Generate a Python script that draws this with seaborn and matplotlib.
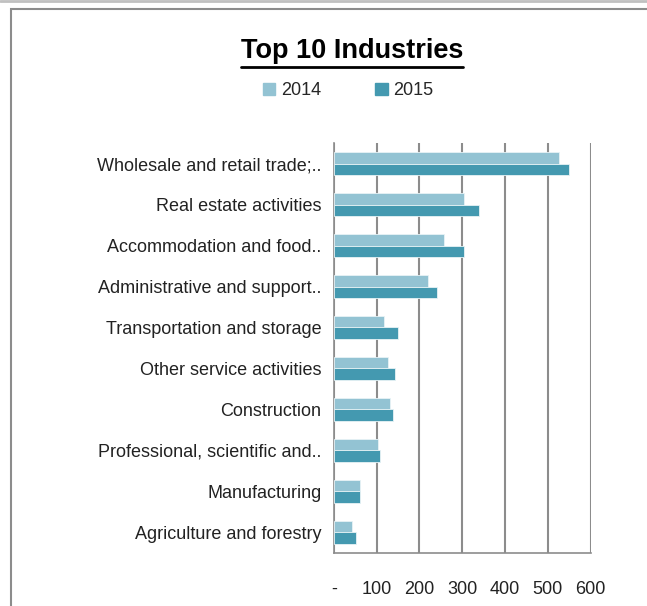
import numpy as np
import pandas as pd
import matplotlib
matplotlib.use("Agg")
import matplotlib.pyplot as plt
import seaborn as sns
from matplotlib.lines import Line2D
from matplotlib.patches import Rectangle

industries = [
    "Wholesale and retail trade;..",
    "Real estate activities",
    "Accommodation and food..",
    "Administrative and support..",
    "Transportation and storage",
    "Other service activities",
    "Construction",
    "Professional, scientific and..",
    "Manufacturing",
    "Agriculture and forestry",
]
values_2014 = [526, 304, 257, 221, 118, 126, 130, 102, 62, 43]
values_2015 = [550, 340, 305, 241, 150, 142, 138, 107, 62, 51]
years = ["2014", "2015"]
xticks = [0, 100, 200, 300, 400, 500, 600]
xtick_labels = ["-", "100", "200", "300", "400", "500", "600"]

df = pd.DataFrame({
    "industry": industries * 2,
    "year": [years[0]] * len(industries) + [years[1]] * len(industries),
    "value": values_2014 + values_2015,
})

sns.set_style("white")
plt.rcParams["font.family"] = ["Liberation Sans", "DejaVu Sans"]

fig = plt.figure(figsize=(6.47, 6.06), dpi=100)
ax = fig.add_axes([0.516, 0.0875, 0.397, 0.6765])

colors = {"2014": "#93c3d3", "2015": "#4499b0"}
sns.barplot(data=df, y="industry", x="value", hue="year", hue_order=years,
            order=industries, palette=colors, saturation=1, width=0.58, orient="h",
            edgecolor="#e8f3f6", linewidth=0.6, ax=ax, legend=False, zorder=3)

ax.set_xlim(0, 600)
ax.set_ylim(len(industries) - 0.5, -0.5)
ax.set_xticks(xticks)
ax.set_xticklabels(xtick_labels, fontsize=13, color="#222222")
ax.tick_params(axis="x", length=6, width=1.2, color="#8c8c8c", pad=14)
ax.set_yticks(range(len(industries)))
ax.set_yticklabels(industries, fontsize=13, color="#222222")
ax.tick_params(axis="y", length=0, pad=9)
ax.set_yticks(np.arange(-0.5, len(industries), 1), minor=True)
ax.tick_params(axis="y", which="minor", length=5, width=1.2, color="#8c8c8c")
ax.set_xlabel("")
ax.set_ylabel("")
ax.grid(axis="x", color="#8c8c8c", linewidth=1.5, zorder=0)
ax.set_axisbelow(True)
for side in ["top", "right"]:
    ax.spines[side].set_visible(False)
for side in ["left", "bottom"]:
    ax.spines[side].set_color("#8c8c8c")
    ax.spines[side].set_linewidth(1.2)

# title with underline
t = fig.text(352 / 647, 1 - 51 / 606, "Top 10 Industries", ha="center", va="center",
             fontsize=19.5, fontweight="bold", color="black")
fig.canvas.draw()
bb = t.get_window_extent(renderer=fig.canvas.get_renderer()).transformed(fig.transFigure.inverted())
fig.add_artist(Line2D([bb.x0, bb.x1], [1 - 67 / 606] * 2, color="black", linewidth=2,
                      transform=fig.transFigure))

# legend
handles = [Rectangle((0, 0), 1, 1, color=colors[y]) for y in years]
fig.legend(handles, years, loc="center", bbox_to_anchor=(348 / 647, 1 - 91 / 606),
           ncol=2, frameon=False, fontsize=13, handlelength=0.7, handleheight=0.7,
           handletextpad=0.3, columnspacing=3.0)

# frame around chart
fig.add_artist(Line2D([0, 1], [1 - 0.5 / 606] * 2, color="#c0c0c0", linewidth=2,
                      transform=fig.transFigure))
fig.add_artist(Rectangle((11 / 647, -0.1), 1.2, 1 - 9 / 606 + 0.1, fill=False,
                         edgecolor="#8c8c8c", linewidth=1.5, transform=fig.transFigure))

fig.savefig("out.png", dpi=100)
